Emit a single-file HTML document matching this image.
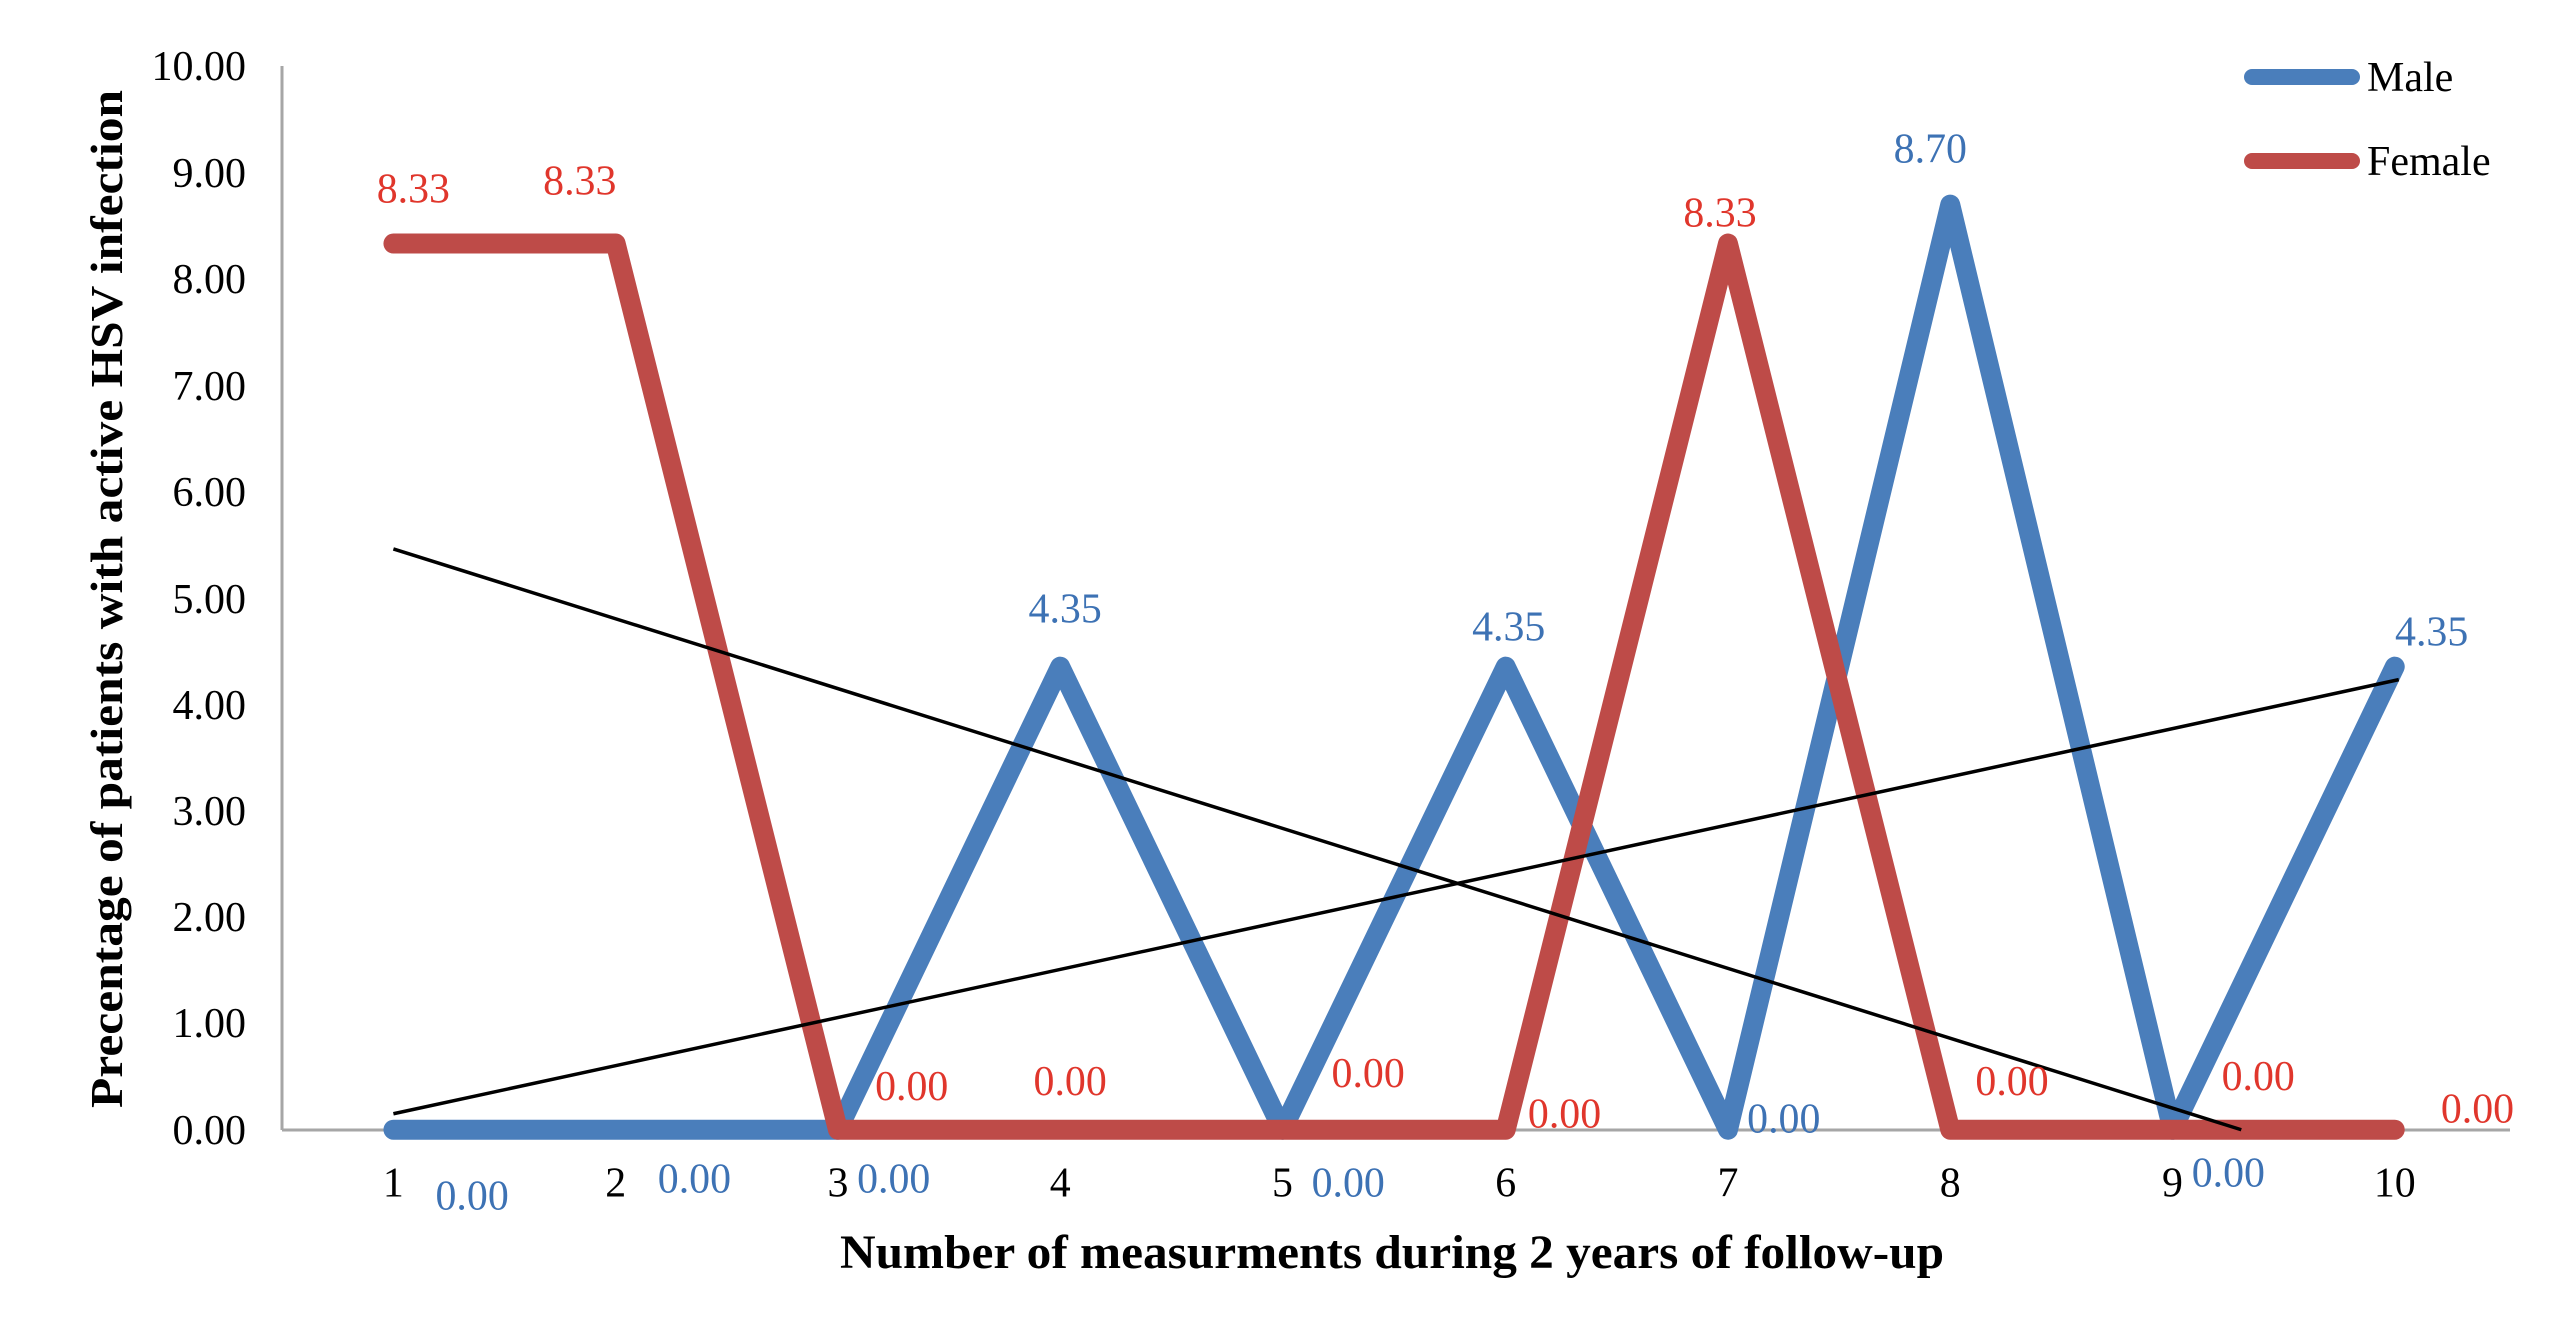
<!DOCTYPE html>
<html><head><meta charset="utf-8"><style>
html,body{margin:0;padding:0;background:#fff;}
svg{display:block;}
text{font-family:"Liberation Serif",serif;}
</style></head><body>
<svg width="2560" height="1341" viewBox="0 0 2560 1341" xmlns="http://www.w3.org/2000/svg">
<rect width="2560" height="1341" fill="#fff"/>
<!-- axes -->
<line x1="282" y1="66" x2="282" y2="1130" stroke="#a6a6a6" stroke-width="3"/>
<line x1="282" y1="1130" x2="2510" y2="1130" stroke="#a6a6a6" stroke-width="3"/>
<!-- y tick labels -->
<g font-size="42" text-anchor="end" fill="#000">
<text x="246" y="80">10.00</text>
<text x="246" y="187">9.00</text>
<text x="246" y="293">8.00</text>
<text x="246" y="400">7.00</text>
<text x="246" y="506">6.00</text>
<text x="246" y="613">5.00</text>
<text x="246" y="719">4.00</text>
<text x="246" y="825">3.00</text>
<text x="246" y="931">2.00</text>
<text x="246" y="1037">1.00</text>
<text x="246" y="1144">0.00</text>
</g>
<g transform="matrix(0.9967,0,0,0.998,0.7,0)">
<!-- x tick labels -->
<g font-size="42" text-anchor="middle" fill="#000">
<text x="394" y="1199">1</text>
<text x="617" y="1199">2</text>
<text x="840" y="1199">3</text>
<text x="1063" y="1199">4</text>
<text x="1286" y="1199">5</text>
<text x="1510" y="1199">6</text>
<text x="1733" y="1199">7</text>
<text x="1956" y="1199">8</text>
<text x="2179" y="1199">9</text>
<text x="2402" y="1199">10</text>
</g>
<!-- series -->
<polyline fill="none" stroke="#4a7ebb" stroke-width="20" stroke-linejoin="round" stroke-linecap="round"
 points="394,1132 617,1132 840,1132 1063,668 1286,1132 1510,668 1733,1132 1956,205 2179,1132 2402,668"/>
<polyline fill="none" stroke="#be4b48" stroke-width="20" stroke-linejoin="round" stroke-linecap="round"
 points="394,244 617,244 840,1132 1063,1132 1286,1132 1510,1132 1733,244 1956,1132 2179,1132 2402,1132"/>
<!-- trendlines -->
<line x1="394" y1="550" x2="2248" y2="1132" stroke="#000" stroke-width="3.5"/>
<line x1="394" y1="1116" x2="2406" y2="681" stroke="#000" stroke-width="3.5"/>
<!-- female labels -->
<g font-size="42" text-anchor="middle" fill="#e0362c">
<text x="414" y="203">8.33</text>
<text x="581" y="195">8.33</text>
<text x="1725" y="227">8.33</text>
<text x="914" y="1102">0.00</text>
<text x="1073" y="1097">0.00</text>
<text x="1372" y="1089">0.00</text>
<text x="1569" y="1130">0.00</text>
<text x="2018" y="1097">0.00</text>
<text x="2265" y="1092">0.00</text>
<text x="2485" y="1125">0.00</text>
</g>
<!-- male labels -->
<g font-size="42" text-anchor="middle" fill="#3d72b4">
<text x="473" y="1212">0.00</text>
<text x="696" y="1195">0.00</text>
<text x="896" y="1195">0.00</text>
<text x="1352" y="1199">0.00</text>
<text x="1789" y="1135">0.00</text>
<text x="2235" y="1189">0.00</text>
<text x="1068" y="624">4.35</text>
<text x="1513" y="642">4.35</text>
<text x="2439" y="647">4.35</text>
<text x="1936" y="163">8.70</text>
</g>
</g>
<text x="1392" y="1268" font-size="48" font-weight="bold" text-anchor="middle" textLength="1104" lengthAdjust="spacingAndGlyphs">Number of measurments during 2 years of follow-up</text>
<text transform="translate(122,599) rotate(-90)" font-size="46" font-weight="bold" text-anchor="middle" textLength="1018" lengthAdjust="spacingAndGlyphs">Precentage of patients with active HSV infection</text>
<!-- legend -->
<line x1="2252" y1="77" x2="2352" y2="77" stroke="#4a7ebb" stroke-width="16" stroke-linecap="round"/>
<line x1="2252" y1="161" x2="2352" y2="161" stroke="#be4b48" stroke-width="16" stroke-linecap="round"/>
<text x="2367" y="91" font-size="42" fill="#000">Male</text>
<text x="2367" y="175" font-size="42" fill="#000">Female</text>
</svg>
</body></html>
